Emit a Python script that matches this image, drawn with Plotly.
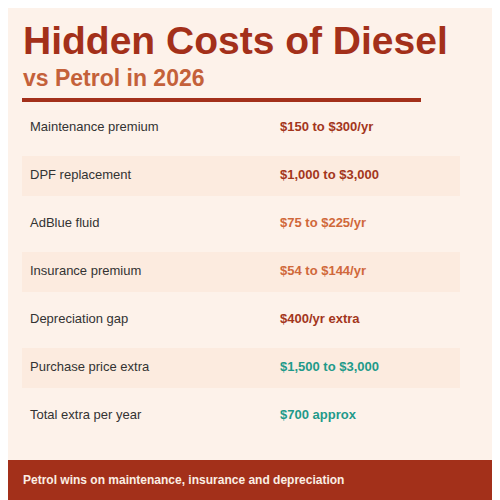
import plotly.graph_objects as go

labels = ["Maintenance premium", "DPF replacement", "AdBlue fluid", "Insurance premium",
          "Depreciation gap", "Purchase price extra", "Total extra per year"]
values = ["$150 to $300/yr", "$1,000 to $3,000", "$75 to $225/yr", "$54 to $144/yr",
          "$400/yr extra", "$1,500 to $3,000", "$700 approx"]
value_colors = ["#a3361c", "#a3361c", "#d0683a", "#d0683a", "#a3361c", "#1f9a8a", "#1f9a8a"]

title = "Hidden Costs of Diesel"
subtitle = "vs Petrol in 2026"
footer = "Petrol wins on maintenance, insurance and depreciation"

red = "#a3301a"
rows_y = [128 + 48 * i for i in range(len(labels))]

fig = go.Figure()

shapes = [
    dict(type="rect", x0=0, x1=520, y0=-10, y1=8, fillcolor=red, line_width=0, layer="below"),
    dict(type="rect", x0=-10, x1=8, y0=-10, y1=520, fillcolor=red, line_width=0, layer="below"),
    dict(type="rect", x0=-10, x1=520, y0=460, y1=520, fillcolor=red, line_width=0, layer="below"),
    dict(type="line", x0=22, x1=421, y0=100, y1=100, line=dict(color=red, width=4)),
]
for i, y in enumerate(rows_y):
    if i % 2 == 1:
        shapes.append(dict(type="rect", x0=22, x1=460, y0=y - 20, y1=y + 20,
                           fillcolor="#fbe9dc", opacity=0.8, line_width=0, layer="below"))

fig.add_trace(go.Scatter(x=[30] * len(labels), y=rows_y, mode="text", text=labels,
                         textposition="middle right",
                         textfont=dict(family="Liberation Sans", size=13, color="#333333"),
                         hoverinfo="skip"))
fig.add_trace(go.Scatter(x=[280] * len(values), y=rows_y, mode="text",
                         text=[f"<b>{v}</b>" for v in values],
                         textposition="middle right",
                         textfont=dict(family="Liberation Sans", size=13, color=value_colors),
                         hoverinfo="skip"))

annotations = [
    dict(x=21, y=40, xref="x", yref="y", text=f"<b>{title}</b>", showarrow=False,
         xanchor="left", yanchor="middle",
         font=dict(family="Liberation Sans", size=39, color="#a3301a")),
    dict(x=21, y=78, xref="x", yref="y", text=f"<b>{subtitle}</b>", showarrow=False,
         xanchor="left", yanchor="middle",
         font=dict(family="Liberation Sans", size=23, color="#c4613a")),
    dict(x=21, y=480, xref="x", yref="y", text=f"<b>{footer}</b>", showarrow=False,
         xanchor="left", yanchor="middle",
         font=dict(family="Liberation Sans", size=12, color="#fbeee4")),
]

fig.update_layout(
    width=500, height=500, margin=dict(l=0, r=0, t=0, b=0),
    paper_bgcolor="#fdf2ea", plot_bgcolor="#fdf2ea",
    showlegend=False, shapes=shapes, annotations=annotations,
    xaxis=dict(range=[8, 508], visible=False, fixedrange=True),
    yaxis=dict(range=[508, 8], visible=False, fixedrange=True),
)

fig.write_html("out.html")
